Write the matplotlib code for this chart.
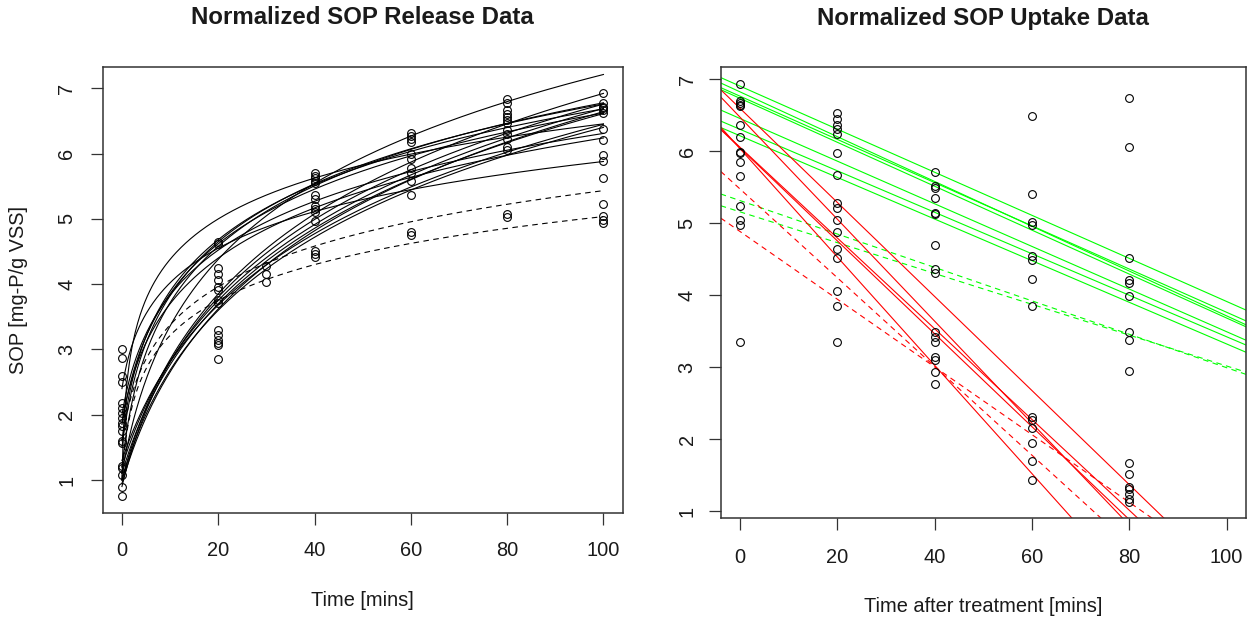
import numpy as np
import matplotlib
matplotlib.use("Agg")
import matplotlib.pyplot as plt

plt.rcParams["font.family"] = ["Liberation Sans", "DejaVu Sans"]

# ---------------- SOP release: observations ----------------
release_times = [0, 20, 30, 40, 60, 80, 100]
release_values = [
    [3.00, 2.87, 2.60, 2.50, 2.18, 2.10, 2.03, 1.95, 1.88, 1.82, 1.75, 1.60, 1.57, 1.22, 1.18, 1.08, 0.90, 0.76],
    [4.65, 4.62, 4.24, 4.16, 4.06, 3.96, 3.91, 3.75, 3.71, 3.30, 3.22, 3.15, 3.10, 3.07, 2.85],
    [4.27, 4.16, 4.04],
    [5.70, 5.66, 5.62, 5.58, 5.55, 5.37, 5.30, 5.20, 5.15, 5.11, 4.96, 4.50, 4.46, 4.42],
    [6.32, 6.27, 6.22, 6.17, 6.00, 5.92, 5.78, 5.70, 5.58, 5.37, 4.80, 4.76],
    [6.83, 6.77, 6.66, 6.61, 6.56, 6.52, 6.47, 6.36, 6.30, 6.22, 6.10, 6.05, 5.08, 5.03],
    [6.92, 6.78, 6.72, 6.69, 6.66, 6.62, 6.38, 6.21, 5.98, 5.88, 5.62, 5.22, 5.05, 4.98, 4.93],
]

# fitted release curves: SOP = a + b * ln(1 + t / k)
rel_fit_a = [1.00, 1.60, 1.50, 1.85, 1.20, 2.00, 1.90, 1.10, 2.40, 1.00, 0.90, 1.20, 1.10, 1.30, 0.95, 1.00]
rel_fit_b = [0.910, 1.309, 1.386, 1.330, 1.436, 1.184, 1.227, 1.956, 0.862, 2.275, 2.148, 2.237, 2.192, 2.114, 2.282, 2.075]
rel_fit_k = [0.25, 2.1, 2.3, 2.85, 2.1, 2.7, 3.0, 4.6, 1.8, 8.0, 7.0, 9.4, 8.8, 9.6, 9.0, 8.0]
# dashed fits (second treatment set)
rel_dash_a = [1.60, 1.00]
rel_dash_b = [0.956, 0.812]
rel_dash_k = [1.85, 0.70]

# ---------------- SOP uptake: observations ----------------
uptake_times = [0, 20, 40, 60, 80]
uptake_values = [
    [6.93, 6.70, 6.67, 6.64, 6.62, 6.36, 6.20, 5.99, 5.97, 5.85, 5.65, 5.23, 5.04, 4.97, 3.34],
    [6.53, 6.44, 6.36, 6.30, 6.24, 5.97, 5.67, 5.28, 5.21, 5.04, 4.87, 4.64, 4.52, 4.05, 3.84, 3.34],
    [5.71, 5.51, 5.48, 5.34, 5.14, 5.12, 4.70, 4.36, 4.30, 3.49, 3.42, 3.34, 3.14, 3.10, 2.93, 2.77],
    [6.49, 5.40, 5.01, 4.97, 4.54, 4.49, 4.22, 3.84, 2.31, 2.27, 2.15, 1.95, 1.69, 1.43],
    [6.74, 6.06, 4.52, 4.21, 4.16, 3.99, 3.49, 3.38, 2.95, 1.67, 1.51, 1.33, 1.30, 1.23, 1.16, 1.13],
]

# linear uptake fits: SOP = intercept + slope * t
green_int = [6.90, 6.82, 6.76, 6.73, 6.45, 6.30, 6.21]
green_slope = [-0.0299, -0.0311, -0.0300, -0.0305, -0.0296, -0.0288, -0.0289]
green_dash_int = [5.31, 5.154]
green_dash_slope = [-0.0232, -0.0214]
red_int = [6.59, 6.467, 6.03, 6.04, 6.05]
red_slope = [-0.0653, -0.0708, -0.0752, -0.0645, -0.0630]
red_dash_int = [5.47, 4.88]
red_dash_slope = [-0.0616, -0.0470]

W, H = 1249, 617
fig = plt.figure(figsize=(W / 100, H / 100), dpi=100)


def px_axes(x0, x1, y_top, y_bot):
    return fig.add_axes([x0 / W, 1 - y_bot / H, (x1 - x0) / W, (y_bot - y_top) / H])


ax1 = px_axes(102.7, 622.7, 66.7, 513.3)
ax2 = px_axes(720.7, 1246.0, 67.3, 518.3)

LW = 0.8
DASH = (0, (5, 4))
TXT = "#1a1a1a"
marker_kw = dict(linestyle="none", marker="o", markersize=5.6, markerfacecolor="none",
                 markeredgecolor="black", markeredgewidth=0.8, zorder=3)

# release panel
t_curve = np.linspace(0, 100, 400)
for a, b, k in zip(rel_fit_a, rel_fit_b, rel_fit_k):
    ax1.plot(t_curve, a + b * np.log1p(t_curve / k), color="black", lw=LW)
for a, b, k in zip(rel_dash_a, rel_dash_b, rel_dash_k):
    ax1.plot(t_curve, a + b * np.log1p(t_curve / k), color="black", lw=LW, linestyle=DASH)
for t, vals in zip(release_times, release_values):
    ax1.plot([t] * len(vals), vals, **marker_kw)

# uptake panel
t_line = np.array([-4.0, 104.0])
for a, s in zip(green_int, green_slope):
    ax2.plot(t_line, a + s * t_line, color="#00ff00", lw=LW)
for a, s in zip(green_dash_int, green_dash_slope):
    ax2.plot(t_line, a + s * t_line, color="#00ff00", lw=LW, linestyle=DASH)
for a, s in zip(red_int, red_slope):
    ax2.plot(t_line, a + s * t_line, color="#ff0000", lw=LW)
for a, s in zip(red_dash_int, red_dash_slope):
    ax2.plot(t_line, a + s * t_line, color="#ff0000", lw=LW, linestyle=DASH)
for t, vals in zip(uptake_times, uptake_values):
    ax2.plot([t] * len(vals), vals, **marker_kw)

ax1.set_xlim(-4, 104)
ax1.set_ylim(0.49, 7.33)
ax2.set_xlim(-4, 104)
ax2.set_ylim(0.898, 7.162)

for ax, xpad, ypad in ((ax1, 11, 10.5), (ax2, 12.5, 8.8)):
    ax.set_xticks([0, 20, 40, 60, 80, 100])
    ax.set_yticks([1, 2, 3, 4, 5, 6, 7])
    ax.tick_params(axis="both", direction="out", length=8.6, width=0.9, color="#333333",
                   labelsize=14.4, labelcolor=TXT)
    ax.tick_params(axis="x", pad=xpad)
    ax.tick_params(axis="y", pad=ypad)
    for lab in ax.get_yticklabels():
        lab.set_rotation(90)
        lab.set_va("center")
        lab.set_ha("right")
    for sp in ax.spines.values():
        sp.set_linewidth(1.1)
        sp.set_color("#333333")

fig.text(362.7 / W, 1 - 18 / H, "Normalized SOP Release Data", ha="center", va="center",
         fontsize=17.3, fontweight="bold", color=TXT)
fig.text(983.3 / W, 1 - 18 / H, "Normalized SOP Uptake Data", ha="center", va="center",
         fontsize=17.3, fontweight="bold", color=TXT)
fig.text(362.7 / W, 1 - 600 / H, "Time [mins]", ha="center", va="center", fontsize=14.4, color=TXT)
fig.text(983.3 / W, 1 - 607 / H, "Time after treatment [mins]", ha="center", va="center",
         fontsize=14.4, color=TXT)
fig.text(19 / W, 1 - 290 / H, "SOP [mg-P/g VSS]", ha="center", va="center", rotation=90,
         fontsize=14.4, color=TXT)

fig.savefig("out.png", dpi=100)
